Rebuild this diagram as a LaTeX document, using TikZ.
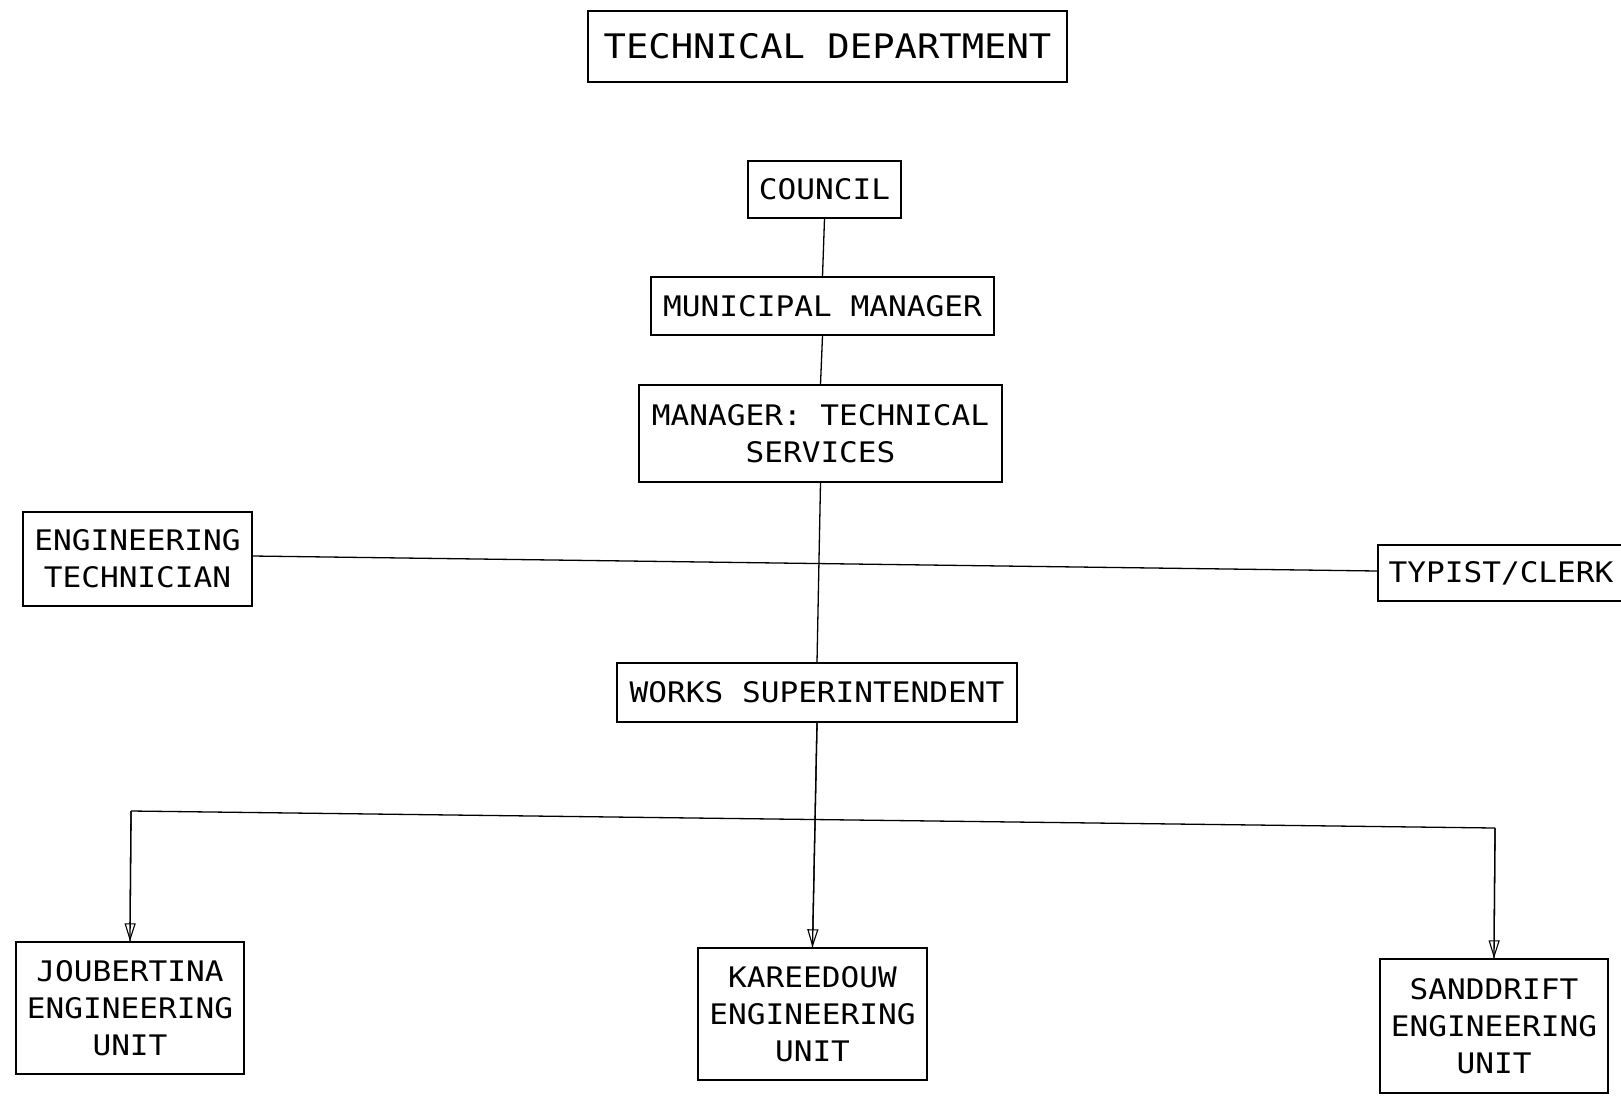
\documentclass[tikz,border=0pt]{standalone}
\usepackage{fontspec}
\usetikzlibrary{arrows.meta}
% stroked, evenly spaced lettering of a pen plotter
\newfontfamily\plotter[FakeStretch=1.1]{DejaVu Sans Mono}
\begin{document}
\begin{tikzpicture}[x=1pt,y=-1pt,
  orgbox/.style={draw,line width=1.4pt,inner sep=0pt,align=center,
    font=\plotter\fontsize{28.3}{37}\selectfont},
  link/.style={line width=1.3pt},
  feed/.style={line width=1.3pt,-{Triangle[open,length=18pt,width=11pt,line width=1.1pt]}}]
\useasboundingbox (0,0) rectangle (1621,1101);
\clip (0,0) rectangle (1621,1101);
\fill[white] (0,0) rectangle (1621,1101);

% heading
\node[orgbox,minimum width=479pt,minimum height=71pt,
  font=\plotter\fontsize{33.8}{40}\selectfont] (title) at (827.5,46.5) {TECHNICAL DEPARTMENT};

% chain of command
\node[orgbox,minimum width=153pt,minimum height=57pt] (council) at (824.5,189.5) {COUNCIL};
\node[orgbox,minimum width=343pt,minimum height=58pt] (mm) at (822.5,306) {MUNICIPAL MANAGER};
\node[orgbox,minimum width=363pt,minimum height=97pt] (mts) at (820.5,433.5) {MANAGER: TECHNICAL\\SERVICES};
\node[orgbox,minimum width=229pt,minimum height=94pt] (tech) at (137.5,559) {ENGINEERING\\TECHNICIAN};
\node[orgbox,minimum width=246pt,minimum height=56pt] (clerk) at (1501,573) {TYPIST/CLERK};
\node[orgbox,minimum width=400pt,minimum height=59pt] (works) at (817,692.5) {WORKS SUPERINTENDENT};

% engineering units
\node[orgbox,minimum width=228pt,minimum height=132pt] (joub) at (130,1008) {JOUBERTINA\\ENGINEERING\\UNIT};
\node[orgbox,minimum width=229pt,minimum height=132pt] (kar) at (812.5,1014) {KAREEDOUW\\ENGINEERING\\UNIT};
\node[orgbox,minimum width=228pt,minimum height=134pt] (sand) at (1494,1026) {SANDDRIFT\\ENGINEERING\\UNIT};

% connectors
\draw[link] (council.south) -- (mm.north);
\draw[link] (mm.south) -- (mts.north);
\draw[link] (mts.south) -- (works.north);
\draw[link] (tech.east |- 0,556) -- (clerk.west |- 0,571);

\coordinate (busL) at (131,811);
\coordinate (busR) at (1495,828);
\draw[link] (busL) -- (busR);
% open arrowheads with the shaft running through to the tip
\foreach \from/\to in {busL/joub,works.south/kar,busR/sand}{
  \draw[link] (\from) -- (\to.north);
  \draw[feed] (\from) -- (\to.north);
}
\end{tikzpicture}
\end{document}
